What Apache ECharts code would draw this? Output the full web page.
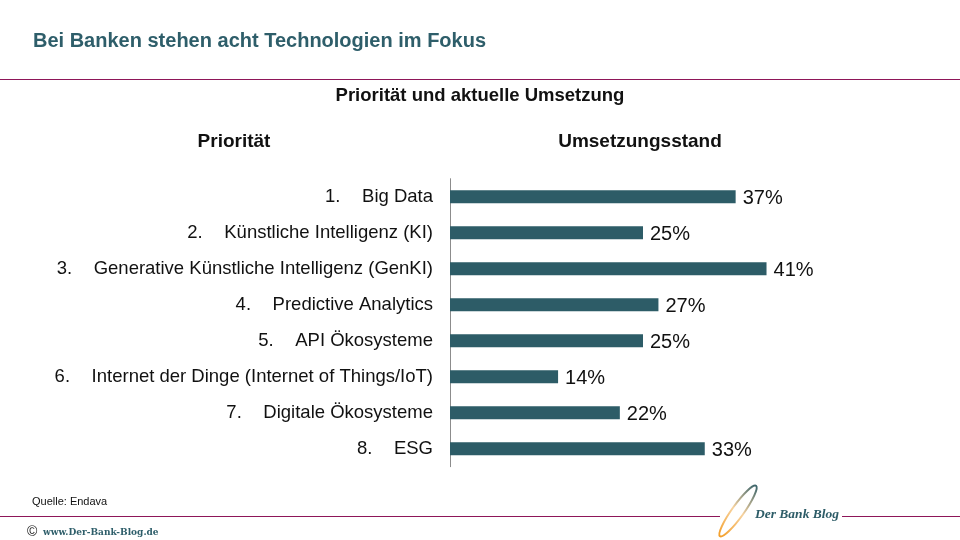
<!DOCTYPE html>
<html>
<head>
<meta charset="utf-8">
<script src="https://cdn.jsdelivr.net/npm/echarts@6/dist/echarts.min.js"></script>
<style>
html,body{margin:0;padding:0;background:#fff;}
#c{width:960px;height:540px;}
</style>
</head>
<body>
<div id="c"></div>
<script>
const categories = ['Big Data', 'Künstliche Intelligenz (KI)', 'Generative Künstliche Intelligenz (GenKI)', 'Predictive Analytics', 'API Ökosysteme', 'Internet der Dinge (Internet of Things/IoT)', 'Digitale Ökosysteme', 'ESG'];
const ranks = ['1.', '2.', '3.', '4.', '5.', '6.', '7.', '8.'];
const values = [37, 25, 41, 27, 25, 14, 22, 33];

const chart = echarts.init(document.getElementById('c'));
const FONT = '"Liberation Sans", Arial, sans-serif';
const teal = '#2d5c67';
const purple = '#8e1659';

chart.setOption({
  animation: false,
  backgroundColor: '#fff',
  textStyle: { fontFamily: FONT },
  grid: { left: 450, top: 178.7, width: 386, height: 288 },
  xAxis: { type: 'value', min: 0, max: 50, show: false },
  yAxis: {
    type: 'category',
    data: categories,
    inverse: true,
    axisLine: { show: true, lineStyle: { color: '#8c8c8c', width: 1 } },
    axisTick: { show: false },
    splitLine: { show: false },
    axisLabel: {
      margin: 17,
      formatter: function (v, i) { return '{n|' + ranks[i] + '}{t|' + v + '}'; },
      rich: {
        n: { width: 37, align: 'left', fontSize: 18.5, color: '#111', fontFamily: FONT },
        t: { fontSize: 18.5, color: '#111', fontFamily: FONT }
      }
    }
  },
  series: [{
    type: 'bar',
    data: values,
    barWidth: 13,
    itemStyle: { color: teal },
    label: {
      show: true, position: 'right', distance: 7, offset: [0, 1.5],
      formatter: '{c}%', fontSize: 20, color: '#111', fontFamily: FONT
    }
  }],
  graphic: [
    { type: 'text', left: 33, top: 31, style: { text: 'Bei Banken stehen acht Technologien im Fokus', font: 'bold 20px ' + FONT, fill: '#2e5e6a' } },
    { type: 'line', shape: { x1: 0, y1: 79.5, x2: 960, y2: 79.5 }, style: { stroke: purple, lineWidth: 1 } },
    { type: 'text', x: 480, y: 96, style: { text: 'Priorität und aktuelle Umsetzung', font: 'bold 18.5px ' + FONT, fill: '#111', align: 'center', verticalAlign: 'middle' } },
    { type: 'text', x: 234, y: 142, style: { text: 'Priorität', font: 'bold 19px ' + FONT, fill: '#111', align: 'center', verticalAlign: 'middle' } },
    { type: 'text', x: 640, y: 142, style: { text: 'Umsetzungsstand', font: 'bold 19px ' + FONT, fill: '#111', align: 'center', verticalAlign: 'middle' } },
    { type: 'text', x: 32, y: 502, style: { text: 'Quelle: Endava', font: '11px "Liberation Sans Narrow", ' + FONT, fill: '#111', verticalAlign: 'middle' } },
    { type: 'line', shape: { x1: 0, y1: 516.5, x2: 720, y2: 516.5 }, style: { stroke: purple, lineWidth: 1 } },
    { type: 'line', shape: { x1: 842, y1: 516.5, x2: 960, y2: 516.5 }, style: { stroke: purple, lineWidth: 1 } },
    { type: 'text', x: 27, y: 532, style: { text: '©', font: '14px ' + FONT, fill: '#222', verticalAlign: 'middle' } },
    { type: 'text', x: 43, y: 533, style: { text: 'www.Der-Bank-Blog.de', font: 'bold 9px "DejaVu Serif", "Liberation Serif", serif', fill: '#2e5e6a', verticalAlign: 'middle' } },
    { type: 'ellipse', x: 738, y: 511, rotation: 0.95, shape: { cx: 0, cy: 0, rx: 31, ry: 6 },
      style: { fill: 'none', lineWidth: 2,
        stroke: { type: 'linear', x: 0, y: 0, x2: 1, y2: 0, colorStops: [{ offset: 0, color: '#f39a1f' }, { offset: 0.5, color: '#f7d3a0' }, { offset: 1, color: '#2d5c67' }] } } },
    { type: 'text', x: 755, y: 515, style: { text: 'Der Bank Blog', font: 'italic bold 13.5px "Liberation Serif", "DejaVu Serif", serif', fill: '#2d5c67', verticalAlign: 'middle' } }
  ]
});
</script>
</body>
</html>
